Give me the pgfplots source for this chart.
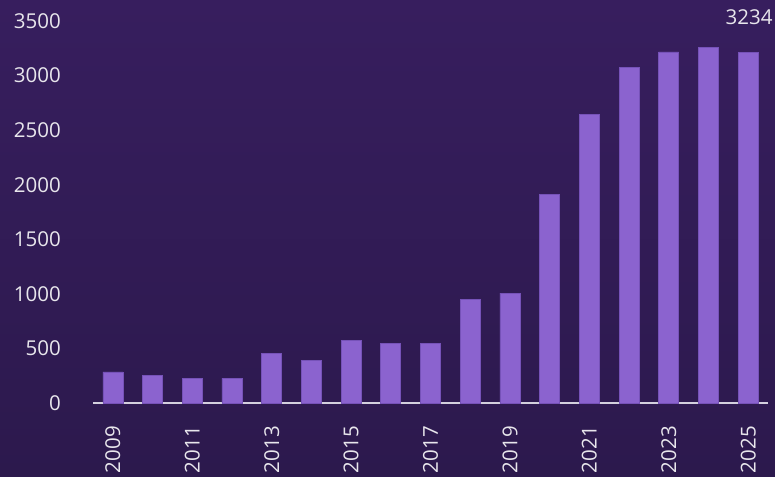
\documentclass[border=0pt]{standalone}
\usepackage{fontspec}
\setmainfont{Open Sans}
\usepackage{pgfplots}
\pgfplotsset{compat=1.18}
\definecolor{bgtop}{RGB}{55,30,94}
\definecolor{bgbot}{RGB}{44,25,77}
\definecolor{barc}{RGB}{139,99,207}
\definecolor{baredge}{RGB}{118,82,184}
\definecolor{txt}{RGB}{232,230,236}
\definecolor{axisline}{RGB}{212,208,222}
\begin{document}
\begin{tikzpicture}
\shade[top color=bgtop,bottom color=bgbot] (-93pt,-73pt) rectangle (682pt,403pt);
\begin{axis}[
  anchor=south west, at={(0pt,0pt)},
  scale only axis, width=675pt, height=382pt,
  xmin=2008.5, xmax=2025.5, ymin=0, ymax=3500,
  axis lines=left, axis line style={-},
  y axis line style={draw=none},
  x axis line style={draw=axisline, line width=1.5pt},
  major tick length=0pt,
  tick style={draw=none},
  xtick={2009,2011,...,2025},
  ytick={0,500,...,3500},
  /pgf/number format/1000 sep={},
  /pgf/number format/assume math mode=true,
  ticklabel style={font=\fontsize{20.5}{24}\selectfont, text=txt},
  yticklabel style={anchor=east, inner sep=0pt, xshift=-32pt},
  xticklabel style={rotate=90, anchor=east, inner sep=0pt, xshift=-23pt},
  ybar, bar width=20pt,
  clip=false,
]
\addplot[fill=barc, draw=baredge, line width=0.6pt] coordinates {
  (2009,285) (2010,256) (2011,222) (2012,225) (2013,451) (2014,390)
  (2015,573) (2016,546) (2017,548) (2018,952) (2019,1007) (2020,1913)
  (2021,2643) (2022,3073) (2023,3216) (2024,3256) (2025,3211)
};
\node[anchor=east, inner sep=0pt, text=txt, font=\fontsize{20.5}{24}\selectfont]
  at (rel axis cs:1,1) [xshift=4.7pt, yshift=4pt] {3234};
\end{axis}
\pgfresetboundingbox
\useasboundingbox (-93pt,-73pt) rectangle (682pt,403pt);
\end{tikzpicture}
\end{document}
